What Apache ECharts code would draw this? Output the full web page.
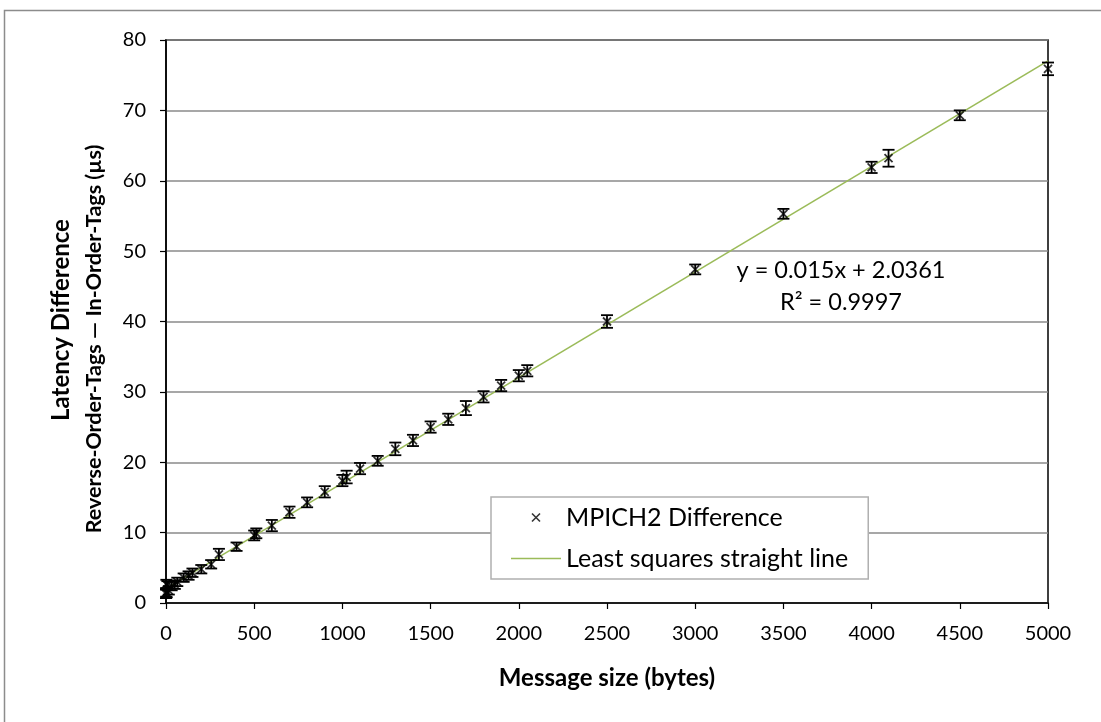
<!DOCTYPE html>
<html>
<head>
<meta charset="utf-8">
<script src="https://cdn.jsdelivr.net/npm/echarts@6/dist/echarts.min.js"></script>
<style>
  html, body { margin: 0; padding: 0; background: #fff; }
  #chart { width: 1101px; height: 722px; }
</style>
</head>
<body>
<div id="chart"></div>
<script>
// Message sizes (bytes) and measured latency difference (µs)
const sizes = [0, 1, 2, 4, 8, 16, 32, 50, 64, 100, 128, 150, 200, 256, 300, 400, 500, 512,
  600, 700, 800, 900, 1000, 1024, 1100, 1200, 1300, 1400, 1500, 1600, 1700, 1800, 1900,
  2000, 2048, 2500, 3000, 3500, 4000, 4096, 4500, 5000];
const latency = [1.3, 1.5, 2.7, 1.4, 2.5, 1.8, 2.4, 2.6, 3.0, 3.6, 3.9, 4.3, 4.8, 5.5, 6.9, 8.0, 9.6, 9.9,
  11.0, 12.9, 14.3, 15.8, 17.4, 17.9, 19.1, 20.2, 21.9, 23.1, 25.0, 26.1, 27.7, 29.3, 30.9,
  32.3, 33.0, 40.0, 47.4, 55.3, 61.9, 63.2, 69.3, 75.9];
// Half-width of each error bar (µs)
const errs = [0.6, 0.6, 0.6, 0.6, 0.6, 0.6, 0.6, 0.6, 0.6, 0.6, 0.6, 0.6, 0.6, 0.6, 0.8, 0.6, 0.7, 0.7,
  0.8, 0.8, 0.7, 0.8, 0.8, 0.9, 0.8, 0.7, 0.9, 0.8, 0.8, 0.8, 1.0, 0.8, 0.8,
  0.8, 0.8, 0.9, 0.7, 0.7, 0.8, 1.2, 0.7, 0.9];
// Least-squares fit: y = 0.015x + 2.0361
const fitSlope = 0.015;
const fitIntercept = 2.0361;
const fitRange = [0, 5000];
const fitText = ['y = 0.015x + 2.0361', 'R\u00b2 = 0.9997'];

const xTicks = { min: 0, max: 5000, interval: 500 };
const yTicks = { min: 0, max: 80, interval: 10 };

const FONT = 'Lato, "Open Sans", sans-serif';
const crossPath = 'path://M0,0L10,10M10,0L0,10';

const points = sizes.map((s, i) => [s, latency[i]]);
const bars = sizes.map((s, i) => [s, latency[i] - errs[i], latency[i] + errs[i]]);
const fitLine = fitRange.map(x => [x, fitSlope * x + fitIntercept]);

const chart = echarts.init(document.getElementById('chart'), null, { renderer: 'canvas' });

chart.setOption({
  backgroundColor: '#fff',
  animation: false,
  grid: {
    left: 166, right: 53, top: 40, bottom: 119,
    show: true, borderColor: '#000', borderWidth: 1.5, backgroundColor: 'transparent'
  },
  xAxis: {
    type: 'value', min: xTicks.min, max: xTicks.max, interval: xTicks.interval,
    axisLine: { lineStyle: { color: '#000', width: 1.5 } },
    axisTick: { show: true, inside: false, length: 6, lineStyle: { color: '#000', width: 1.2 } },
    axisLabel: { color: '#000', fontFamily: FONT, fontSize: 20, margin: 21, formatter: v => String(v) },
    splitLine: { show: false },
    name: 'Message size (bytes)', nameLocation: 'middle', nameGap: 63,
    nameTextStyle: { color: '#000', fontFamily: FONT, fontSize: 24, fontWeight: 'bold' }
  },
  yAxis: {
    type: 'value', min: yTicks.min, max: yTicks.max, interval: yTicks.interval,
    axisLine: { show: true, lineStyle: { color: '#000', width: 1.5 } },
    axisTick: { show: true, inside: false, length: 6, lineStyle: { color: '#000', width: 1.2 } },
    axisLabel: { color: '#000', fontFamily: FONT, fontSize: 20, margin: 20 },
    splitLine: { show: true, lineStyle: { color: '#8a8a8a', width: 1.5 } }
  },
  legend: {
    orient: 'vertical', left: 491, top: 497,
    padding: [8, 20, 8, 20],
    itemGap: 16,
    itemWidth: 50, itemHeight: 8,
    backgroundColor: '#fff', borderColor: '#b0b0b0', borderWidth: 1.5, borderRadius: 0,
    textStyle: { color: '#000', fontFamily: FONT, fontSize: 25 },
    data: [
      { name: 'MPICH2 Difference', icon: crossPath,
        itemStyle: { color: 'none', borderColor: '#000', borderWidth: 1.6 } },
      { name: 'Least squares straight line', icon: 'path://M0,0L50,0L50,1.6L0,1.6Z',
        itemStyle: { color: '#9bbb59', borderWidth: 0 } }
    ]
  },
  graphic: [
    {
      type: 'rect', silent: true, z: -10,
      shape: { x: 4.5, y: 10.5, width: 1200, height: 800 },
      style: { fill: '#fff', stroke: '#8c8c8c', lineWidth: 1.5 }
    },
    {
      type: 'text', x: 61, y: 320, rotation: Math.PI / 2,
      style: {
        text: 'Latency Difference', fill: '#000', font: 'bold 24px ' + FONT,
        align: 'center', verticalAlign: 'middle'
      }
    },
    {
      type: 'text', x: 94, y: 339, rotation: Math.PI / 2,
      style: {
        text: 'Reverse-Order-Tags \u2014 In-Order-Tags (\u00b5s)', fill: '#000', font: 'bold 21.5px ' + FONT,
        align: 'center', verticalAlign: 'middle'
      }
    },
    {
      type: 'text', x: 841, y: 270,
      style: { text: fitText[0], fill: '#000', font: '23.5px ' + FONT, align: 'center', verticalAlign: 'middle' }
    },
    {
      type: 'text', x: 841, y: 302,
      style: { text: fitText[1], fill: '#000', font: '23.5px ' + FONT, align: 'center', verticalAlign: 'middle' }
    }
  ],
  series: [
    {
      name: 'Least squares straight line',
      type: 'line',
      data: fitLine,
      symbol: 'none',
      lineStyle: { color: '#9bbb59', width: 1.6 },
      itemStyle: { color: '#9bbb59' },
      z: 3
    },
    {
      name: 'MPICH2 Difference',
      type: 'scatter',
      data: points,
      symbol: crossPath,
      symbolSize: 8,
      itemStyle: { color: 'none', borderColor: '#000', borderWidth: 1.8 },
      z: 4
    },
    {
      name: 'errorbars',
      type: 'custom',
      data: bars,
      z: 5,
      renderItem: function (params, api) {
        const x = api.value(0);
        const top = api.coord([x, api.value(2)]);
        const bot = api.coord([x, api.value(1)]);
        const w = 6;
        const st = { stroke: '#000', lineWidth: 1.8 };
        return {
          type: 'group',
          children: [
            { type: 'line', shape: { x1: top[0], y1: top[1], x2: bot[0], y2: bot[1] }, style: st },
            { type: 'line', shape: { x1: top[0] - w, y1: top[1], x2: top[0] + w, y2: top[1] }, style: st },
            { type: 'line', shape: { x1: bot[0] - w, y1: bot[1], x2: bot[0] + w, y2: bot[1] }, style: st }
          ]
        };
      }
    }
  ]
});
</script>
</body>
</html>
